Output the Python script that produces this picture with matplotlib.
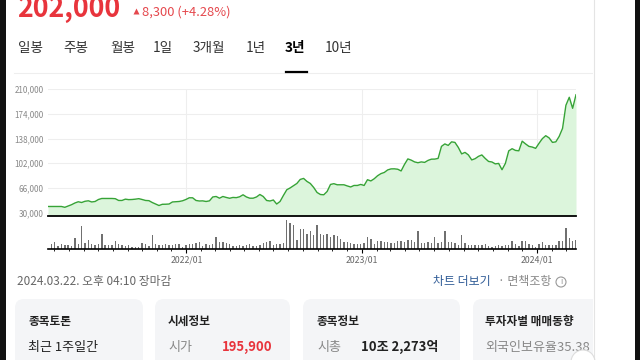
import pandas as pd
import matplotlib
matplotlib.use("Agg")
import matplotlib.pyplot as plt
import matplotlib.dates as mdates
from matplotlib.patches import FancyBboxPatch, Rectangle, Circle
from matplotlib.ticker import FuncFormatter

plt.rcParams['font.family'] = ['Noto Sans CJK KR', 'DejaVu Sans']

# weekly close, thousand won
price_k = [38.8, 38.8, 38.8, 38.8, 38.8, 37.6, 39.5, 41.4, 43.9, 45.7,
           44.6, 46.4, 47.1, 45.4, 46.1, 49.0, 50.5, 50.5, 50.5, 50.5,
           50.2, 47.6, 47.6, 49.5, 48.8, 49.0, 49.5, 50.2, 49.0, 47.6,
           47.3, 44.6, 42.4, 40.2, 42.0, 42.1, 42.4, 45.4, 45.8, 46.1,
           47.1, 49.0, 51.5, 51.5, 47.6, 46.8, 47.0, 46.1, 47.0, 52.7,
           53.4, 50.9, 53.4, 52.0, 50.8, 52.0, 51.7, 53.0, 55.9, 52.7,
           50.9, 50.9, 52.7, 56.3, 53.4, 47.6, 46.8, 48.3, 42.4, 46.1,
           54.9, 63.2, 65.9, 69.2, 72.4, 78.3, 79.8, 75.4, 72.4, 66.6,
           59.3, 56.3, 55.9, 60.7, 71.0, 72.1, 70.5, 70.5, 70.5, 68.8,
           67.3, 69.5, 69.5, 71.0, 69.5, 77.9, 76.1, 79.3, 83.7, 86.8,
           88.5, 92.2, 93.7, 93.8, 93.2, 90.7, 100.2, 108.3, 106.5, 103.9,
           102.7, 103.9, 103.2, 106.1, 107.9, 108.0, 109.0, 126.6, 130.2, 128.0,
           133.2, 132.4, 125.1, 115.6, 117.8, 114.1, 106.8, 108.6, 112.0, 114.1,
           109.0, 104.6, 103.8, 101.0, 101.7, 92.5, 101.7, 120.0, 123.2, 120.7,
           120.1, 134.2, 130.2, 126.6, 125.6, 123.7, 131.0, 137.9, 142.2, 139.0,
           132.4, 133.2, 141.2, 152.9, 186.6, 198.3, 182.2, 202.0]

# weekly volume, relative units
volume = [16, 21, 10, 16, 14, 12, 11, 34, 16, 70,
          20, 28, 15, 13, 16, 46, 14, 14, 14, 26,
          17, 13, 11, 13, 8, 7, 7, 18, 16, 10,
          42, 15, 13, 13, 15, 12, 14, 17, 16, 8,
          12, 16, 17, 19, 21, 10, 15, 12, 15, 36,
          21, 21, 20, 16, 11, 9, 12, 11, 12, 15,
          11, 10, 12, 19, 22, 26, 12, 17, 15, 18,
          88, 80, 73, 28, 60,
          60, 46, 54, 43, 74, 45, 43, 45, 36, 44,
          40, 30, 23, 21, 18, 17, 16, 16, 20, 36,
          30, 15, 25, 26, 22, 22, 20, 18, 26, 26,
          21, 27, 27, 23, 54, 18, 20, 22, 18, 36,
          18, 23, 54, 23, 21, 20, 14, 44, 18, 14,
          14, 13, 12, 14, 16, 9, 7, 10, 13, 11,
          14, 13, 24, 16, 10, 24, 25, 16, 14, 8,
          16, 22, 14, 13, 13, 14, 24, 25, 63, 33,
          26, 28]

price_ticks = [30000, 66000, 102000, 138000, 174000, 210000]
year_ticks = pd.to_datetime(['2022-01-01', '2023-01-01', '2024-01-01'])
tabs = ['일봉', '주봉', '월봉', '1일', '3개월', '1년', '3년', '10년']
tab_x = [18, 63, 110, 153, 193, 246, 285, 325]

price = [v * 1000 for v in price_k]
price_dates = pd.date_range(end='2024-03-22', periods=len(price), freq='W-FRI')
vol_dates = pd.date_range(end='2024-03-22', periods=len(volume), freq='W-FRI')
xlim = (price_dates[0], price_dates[-1])

W, H = 640, 360
fig = plt.figure(figsize=(6.4, 3.6), dpi=100)
fig.patch.set_facecolor('white')


def box(x0, y0, x1, y1):
    return [x0 / W, 1 - y1 / H, (x1 - x0) / W, (y1 - y0) / H]


# price chart
ax = fig.add_axes(box(48, 89, 576, 216))
ymin = 30000 - 3.5 * 1457.5
ax.fill_between(price_dates, price, ymin, color='#dcf5dc', lw=0)
ax.plot(price_dates, price, color='#36a336', lw=1.0)
ax.set_xlim(*xlim)
ax.set_ylim(ymin, 210400)
ax.set_yticks(price_ticks)
ax.yaxis.set_major_formatter(FuncFormatter(lambda v, p: f'{int(v):,}'))
ax.set_xticks(year_ticks)
ax.tick_params(axis='y', length=0, pad=3, labelsize=5.8, labelcolor='#888888')
ax.tick_params(axis='x', length=0, labelbottom=False)
ax.grid(True, color='#eeeeee', lw=0.8)
ax.set_axisbelow(True)
for s in ['top', 'right', 'left']:
    ax.spines[s].set_visible(False)
ax.spines['bottom'].set_color('black')
ax.spines['bottom'].set_linewidth(1.3)

# volume chart
av = fig.add_axes(box(48, 218, 576, 249.3))
av.bar(vol_dates, volume, width=2.9, color='#707070')
av.set_xlim(*xlim)
av.set_ylim(0, 94)
av.set_yticks([])
av.set_xticks(year_ticks)
av.set_xticklabels([d.strftime('%Y/%m') for d in year_ticks])
av.xaxis.set_minor_locator(mdates.MonthLocator())
av.tick_params(axis='x', which='major', length=3, width=0.8, pad=1.5,
               labelsize=6.3, labelcolor='#666666')
av.tick_params(axis='x', which='minor', length=1.5, width=0.6)
for s in ['top', 'right', 'left']:
    av.spines[s].set_visible(False)
av.spines['bottom'].set_linewidth(1.2)

# page elements
ov = fig.add_axes([0, 0, 1, 1])
ov.set_xlim(0, W)
ov.set_ylim(H, 0)
ov.axis('off')

ov.text(17, 16.5, '202,000', fontsize=19.3, weight='bold', color='#e8343c', va='baseline')
ov.plot([136], [10.5], marker='^', ms=4, color='#e5484d', mec='none')
ov.text(142, 12.5, '8,300 (+4.28%)', fontsize=9.3, color='#e5484d', va='center')

for t, x in zip(tabs, tab_x):
    bold = t == '3년'
    ov.text(x, 48, t, fontsize=9.8, va='center',
            color='black' if bold else '#333333', weight='bold' if bold else 'normal')
ov.plot([14, 592], [72.5, 72.5], color='#eeeeee', lw=0.8)
ov.plot([286, 307], [72, 72], color='black', lw=1.6)

ov.text(17, 282, '2024.03.22. 오후 04:10 장마감', fontsize=8.5, color='#666666', va='center')
ov.text(433, 282, '차트 더보기', fontsize=8.6, color='#2f5b96', va='center')
ov.text(498, 282, '· 면책조항', fontsize=8.6, color='#888888', va='center')
ov.add_patch(Circle((561, 282), 5, fill=False, ec='#999999', lw=0.8))
ov.text(561, 282, 'i', fontsize=6, color='#999999', ha='center', va='center')

cards = [(15, 143), (155, 290), (303, 460), (473, 600)]
for x0, x1 in cards:
    ov.add_patch(FancyBboxPatch((x0, 299), x1 - x0, 80,
                                boxstyle='round,pad=0,rounding_size=9',
                                fc='#f4f5f7', ec='none'))

ov.text(29, 321, '종목토론', fontsize=8.4, weight='bold', color='#222222', va='center')
ov.text(28, 347, '최근 1주일간', fontsize=9.4, color='#222222', va='center')
ov.text(28, 368, '856개의', fontsize=9.4, color='#222222', va='center')

ov.text(168, 321, '시세정보', fontsize=8.4, weight='bold', color='#222222', va='center')
ov.text(168, 347, '시가', fontsize=9.4, color='#888888', va='center')
ov.text(222, 347, '195,900', fontsize=9.4, weight='bold', color='#e8343c', va='center')

ov.text(317, 321, '종목정보', fontsize=8.4, weight='bold', color='#222222', va='center')
ov.text(317, 347, '시총', fontsize=9.4, color='#888888', va='center')
ov.text(361, 347, '10조 2,273억', fontsize=9.4, weight='bold', color='#222222', va='center')

ov.text(485, 321, '투자자별 매매동향', fontsize=8.4, weight='bold', color='#222222', va='center')
ov.text(485, 347, '외국인보유율35.38', fontsize=9.4, color='#888888', va='center')

# right margin, panel border and dark edges
ov.add_patch(Rectangle((593, 0), 42, H, fc='white', ec='none', zorder=5))
ov.plot([594, 594], [0, H], color='#e4e4e4', lw=0.8, zorder=6)
ov.add_patch(Circle((583, 362), 12, fc='white', ec='#dddddd', lw=0.8, zorder=7))
ov.add_patch(Rectangle((634.5, 0), 6, H, fc='#111111', ec='none', zorder=8))
ov.add_patch(Rectangle((0, 0), 5.5, H, fc='#111111', ec='none', zorder=8))

fig.savefig('out.png', dpi=100)
